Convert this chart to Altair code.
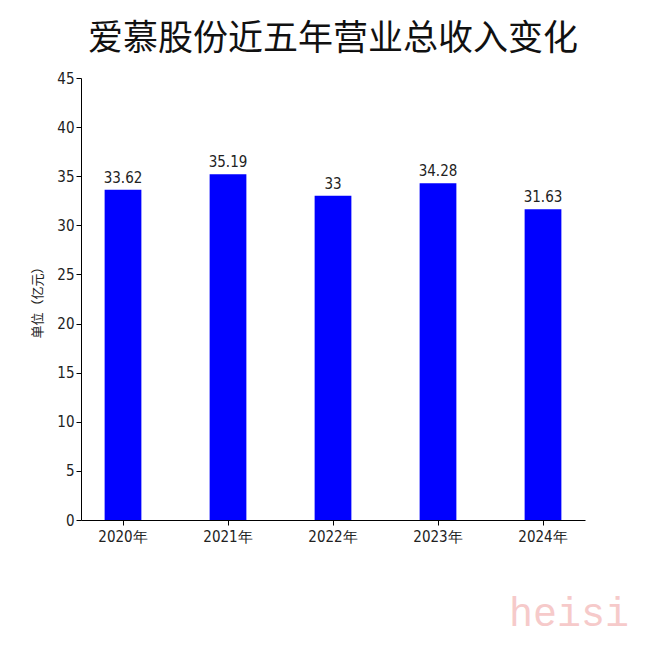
import altair as alt
import pandas as pd

years = ["2020年", "2021年", "2022年", "2023年", "2024年"]
revenue = [33.62, 35.19, 33, 34.28, 31.63]
labels = ["33.62", "35.19", "33", "34.28", "31.63"]

df = pd.DataFrame({"year": years, "rev": revenue, "label": labels})

NUMFONT = "Liberation Sans Narrow, DejaVu Sans Condensed, Liberation Sans, sans-serif"

x = alt.X("year:N", sort=years, title=None,
          scale=alt.Scale(paddingInner=0.65, paddingOuter=0.225),
          axis=alt.Axis(labelAngle=0, labelFont=NUMFONT, labelFontSize=15,
                        labelColor="#222", domainColor="#000", tickColor="#000",
                        tickSize=5, labelPadding=4))
y = alt.Y("rev:Q", title="单位（亿元）",
          scale=alt.Scale(domain=[0, 45], nice=False),
          axis=alt.Axis(values=list(range(0, 50, 5)), grid=False,
                        labelFont=NUMFONT, labelFontSize=15, labelColor="#222",
                        domainColor="#000", tickColor="#000", tickSize=5,
                        titleFont="Noto Sans CJK SC", titleFontSize=13, titleFontWeight="normal",
                        titleColor="#222", titlePadding=12))

bars = alt.Chart(df).mark_bar(color="#0000FF").encode(x=x, y=y)
text = alt.Chart(df).mark_text(dy=-12, fontSize=15, font=NUMFONT, color="#222").encode(
    x=alt.X("year:N", sort=years), y="rev:Q", text="label:N")

wm = alt.Chart(pd.DataFrame({"t": ["heisi"]})).mark_text(
    font="Liberation Mono", fontSize=40, color="#f6caca", align="left", baseline="alphabetic"
).encode(x=alt.value(428), y=alt.value(548), text="t:N")

chart = alt.layer(bars, text, wm).properties(
    width=504, height=442,
    background="white",
    title=alt.Title("爱慕股份近五年营业总收入变化", font="Noto Sans CJK SC", fontSize=35,
                    fontWeight="normal", color="#111", anchor="middle", offset=14),
    autosize=alt.AutoSizeParams(type="none"),
    padding={"left": 73, "top": 70, "right": 56, "bottom": 118},
).configure_view(stroke="transparent", strokeWidth=0)

chart.save("out.html", embed_options={"renderer": "svg", "actions": False})
